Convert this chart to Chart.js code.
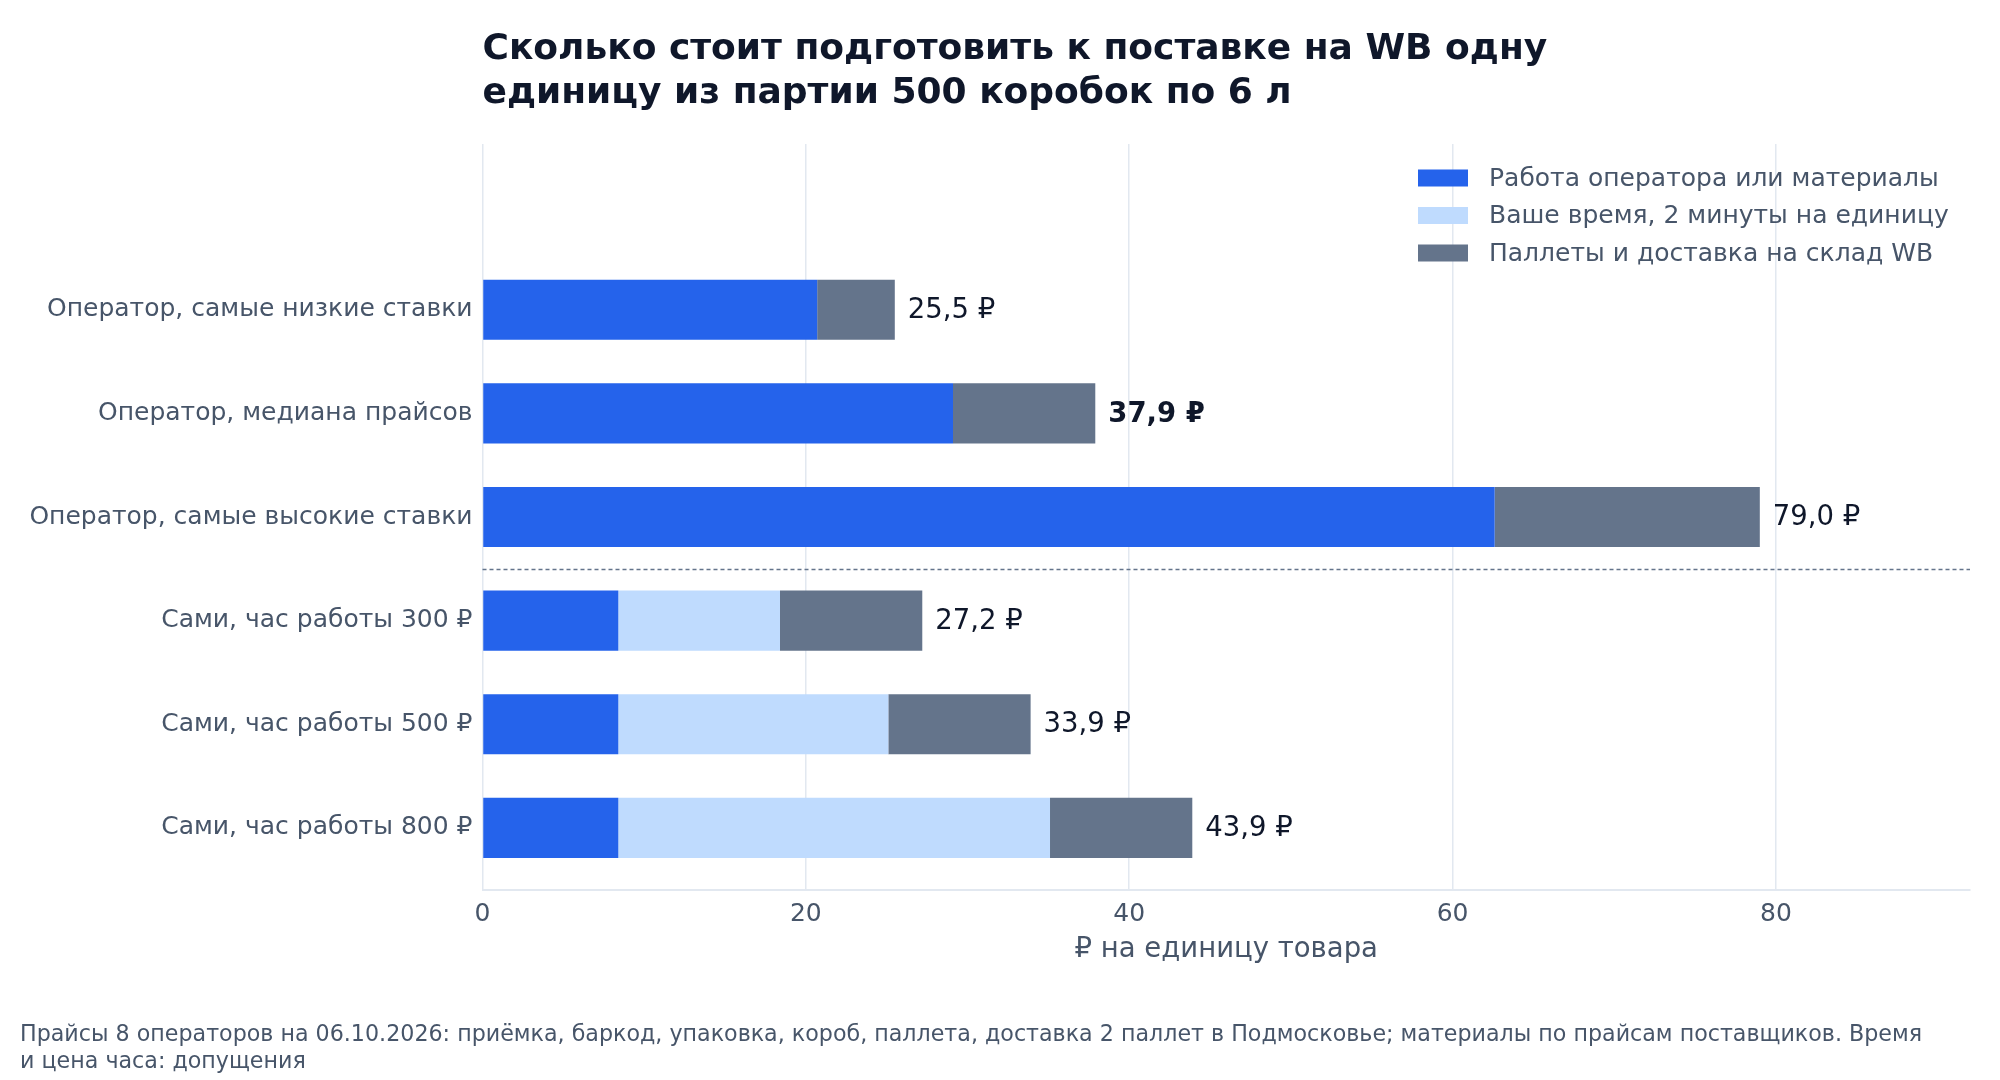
<!DOCTYPE html>
<html><head><meta charset="utf-8">
<script src="https://cdn.jsdelivr.net/npm/chart.js@4"></script>
<style>html,body{margin:0;padding:0;background:#fff}#wrap{width:2000px;height:1080px;position:relative}</style>
</head><body><div id="wrap"><canvas id="c" width="2000" height="1080"></canvas></div>
<script>
const categories = [
  'Оператор, самые низкие ставки',
  'Оператор, медиана прайсов',
  'Оператор, самые высокие ставки',
  'Сами, час работы 300 ₽',
  'Сами, час работы 500 ₽',
  'Сами, час работы 800 ₽'
];
const seriesNames = [
  'Работа оператора или материалы',
  'Ваше время, 2 минуты на единицу',
  'Паллеты и доставка на склад WB'
];
const operatorOrMaterials = [20.7, 29.1, 62.6, 8.4, 8.4, 8.4];
const yourTime = [0, 0, 0, 10.0, 16.7, 26.7];
const palletsDelivery = [4.8, 8.8, 16.4, 8.8, 8.8, 8.8];
const xTickValues = [0, 20, 40, 60, 80];
const boldRowIndex = 1;
const titleLines = ['Сколько стоит подготовить к поставке на WB одну', 'единицу из партии 500 коробок по 6 л'];
const xAxisTitle = '₽ на единицу товара';
const footnoteLines = [
  'Прайсы 8 операторов на 06.10.2026: приёмка, баркод, упаковка, короб, паллета, доставка 2 паллет в Подмосковье; материалы по прайсам поставщиков. Время',
  'и цена часа: допущения'
];

const colors = ['#2563eb', '#bfdbfe', '#64748b'];
const FONT = "'DejaVu Sans', sans-serif";
const TEXT = '#475569';
const DARK = '#0f172a';

const seriesValues = [operatorOrMaterials, yourTime, palletsDelivery];
const datasets = seriesValues.map((arr, k) => ({
  label: seriesNames[k],
  data: arr.map((v, i) => ({ x: v, y: i })),
  backgroundColor: colors[k],
  borderWidth: 0,
  barPercentage: 0.58,
  categoryPercentage: 1.0
}));

const extras = {
  id: 'extras',
  afterDatasetsDraw(chart) {
    const { ctx, chartArea, scales } = chart;
    const xs = scales.x, ys = scales.y;
    const sy = Math.round(ys.getPixelForValue(2.5)) + 0.5;
    ctx.save();
    ctx.strokeStyle = '#64748b';
    ctx.lineWidth = 1.5;
    ctx.setLineDash([4, 3]);
    ctx.beginPath();
    ctx.moveTo(chartArea.left, sy);
    ctx.lineTo(chartArea.right, sy);
    ctx.stroke();
    ctx.setLineDash([]);
    ctx.textBaseline = 'middle';
    ctx.textAlign = 'left';
    ctx.fillStyle = DARK;
    categories.forEach((c, i) => {
      const total = operatorOrMaterials[i] + yourTime[i] + palletsDelivery[i];
      const txt = total.toFixed(1).replace('.', ',') + ' ₽';
      ctx.font = (i === boldRowIndex ? 'bold ' : '') + '27.5px ' + FONT;
      ctx.fillText(txt, xs.getPixelForValue(total) + 13, ys.getPixelForValue(i) + 1);
    });
    ctx.restore();
  },
  afterDraw(chart) {
    const { ctx, chartArea } = chart;
    ctx.save();
    ctx.textBaseline = 'middle';
    ctx.textAlign = 'left';
    ctx.fillStyle = DARK;
    ctx.font = 'bold 36px ' + FONT;
    ctx.fillText(titleLines[0], chartArea.left, 50);
    ctx.fillText(titleLines[1], chartArea.left, 94);
    const ly = [178, 215.5, 253];
    seriesNames.forEach((n, k) => {
      ctx.fillStyle = colors[k];
      ctx.fillRect(1418, ly[k] - 8.5, 50, 17);
      ctx.fillStyle = TEXT;
      ctx.font = '25px ' + FONT;
      ctx.fillText(n, 1489, ly[k] + 1);
    });
    ctx.textAlign = 'center';
    ctx.font = '27.5px ' + FONT;
    ctx.fillStyle = TEXT;
    ctx.fillText(xAxisTitle, (chartArea.left + chartArea.right) / 2, 950);
    ctx.textAlign = 'left';
    ctx.font = '22.2px ' + FONT;
    ctx.fillText(footnoteLines[0], 20, 1035);
    ctx.fillText(footnoteLines[1], 20, 1062);
    ctx.restore();
  }
};

new Chart(document.getElementById('c'), {
  type: 'bar',
  data: { datasets },
  plugins: [extras],
  options: {
    indexAxis: 'y',
    responsive: false,
    animation: false,
    layout: { padding: { left: 0, top: 144, right: 30, bottom: 0 } },
    plugins: { legend: { display: false }, title: { display: false }, tooltip: { enabled: false } },
    scales: {
      x: {
        type: 'linear',
        stacked: true,
        min: 0,
        max: 92,
        afterBuildTicks: s => { s.ticks = xTickValues.map(v => ({ value: v })); },
        afterFit: s => { s.height = 190; },
        grid: { color: '#e2e8f0', lineWidth: 1.5, drawTicks: false },
        border: { display: true, color: '#e2e8f0', width: 2 },
        ticks: { color: TEXT, font: { family: FONT, size: 25 }, padding: 9 }
      },
      y: {
        type: 'linear',
        stacked: true,
        reverse: true,
        offset: false,
        min: -1.6,
        max: 5.6,
        afterBuildTicks: s => { s.ticks = categories.map((_, i) => ({ value: i })); },
        afterFit: s => { s.width = 482.5; },
        grid: { display: false, drawTicks: false, offset: false },
        border: { display: false },
        ticks: {
          color: TEXT,
          font: { family: FONT, size: 25 },
          padding: 10,
          callback: v => categories[v] ?? ''
        }
      }
    }
  }
});
</script></body></html>
